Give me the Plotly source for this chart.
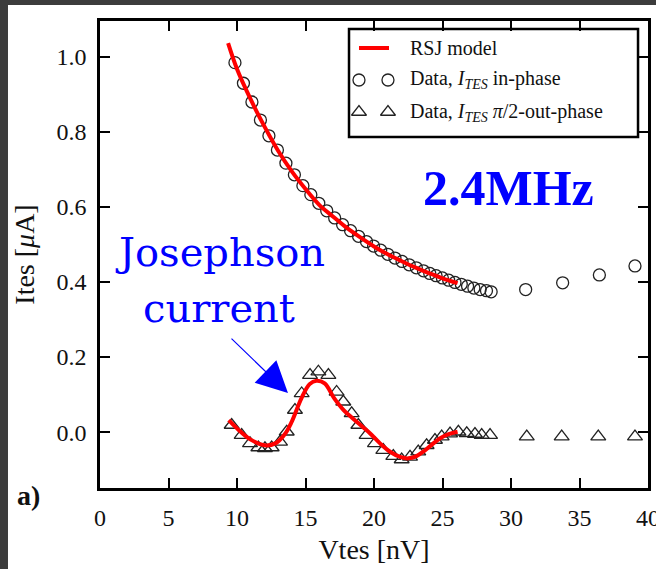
import plotly.graph_objects as go

# ---- measured data -------------------------------------------------------
# In-phase component of I_TES (open circles)
v_inphase = [9.85, 10.47, 11.09, 11.71, 12.33, 12.95, 13.57, 14.19, 14.81,
             15.39, 15.97, 16.55, 17.13, 17.71, 18.29, 18.87, 19.45, 19.97,
             20.49, 21.01, 21.53, 22.05, 22.57, 23.09, 23.61, 24.07, 24.53,
             24.99, 25.45, 25.91, 26.37, 26.83, 27.29, 27.75, 28.21, 28.55,
             31.07, 33.77, 36.45, 39.05]
i_inphase = [0.985, 0.930, 0.880, 0.832, 0.790, 0.752, 0.717, 0.686, 0.657,
             0.633, 0.610, 0.590, 0.571, 0.553, 0.537, 0.522, 0.508, 0.496,
             0.485, 0.474, 0.464, 0.455, 0.446, 0.438, 0.430, 0.423, 0.417,
             0.411, 0.405, 0.399, 0.394, 0.389, 0.384, 0.380, 0.377, 0.374,
             0.380, 0.398, 0.419, 0.443]

# pi/2 out-of-phase component of I_TES (open triangles)
v_outphase = [9.61, 10.34, 10.95, 11.56, 12.04, 12.53, 13.14, 13.63, 14.23,
              14.72, 15.33, 15.94, 16.67, 17.27, 17.76, 18.37, 18.86, 19.46,
              20.07, 20.68, 21.41, 22.02, 22.63, 23.23, 23.84, 24.45, 24.94,
              25.55, 26.16, 26.77, 27.37, 27.86, 28.47, 31.15, 33.70, 36.37,
              39.05]
i_outphase = [0.019, -0.008, -0.030, -0.041, -0.043, -0.041, -0.026, 0.001,
              0.059, 0.103, 0.152, 0.161, 0.152, 0.107, 0.081, 0.050, 0.019,
              -0.008, -0.030, -0.048, -0.064, -0.073, -0.066, -0.052, -0.035,
              -0.021, -0.012, -0.004, 0.001, -0.003, -0.005, -0.008, -0.008,
              -0.012, -0.012, -0.012, -0.012]

# RSJ model curves
v_rsj_in = [9.35, 10.0, 11.0, 12.0, 13.0, 14.0, 15.0, 16.0, 17.0, 18.0,
            19.0, 20.0, 21.0, 22.0, 23.0, 24.0, 25.0, 26.1]
i_rsj_in = [1.037, 0.968, 0.887, 0.815, 0.750, 0.695, 0.648, 0.606, 0.575,
            0.545, 0.519, 0.495, 0.474, 0.456, 0.439, 0.424, 0.410, 0.397]

v_rsj_out = [9.4, 10.0, 11.0, 12.0, 12.8, 13.5, 14.0, 14.7, 15.3, 15.8,
             16.4, 17.1, 17.8, 18.5, 19.2, 19.7, 20.44, 21.2, 21.9, 22.5,
             23.1, 23.6, 24.2, 24.8, 25.4, 26.1]
i_rsj_out = [0.032, 0.010, -0.020, -0.035, -0.030, -0.005, 0.028, 0.090,
             0.128, 0.137, 0.130, 0.090, 0.058, 0.035, 0.013, -0.003, -0.030,
             -0.053, -0.066, -0.070, -0.064, -0.052, -0.034, -0.017, -0.006,
             0.001]

x_ticks = [0, 5, 10, 15, 20, 25, 30, 35, 40]
y_ticks = [0.0, 0.2, 0.4, 0.6, 0.8, 1.0]

legend_labels = ["RSJ model",
                 "Data, <i>I</i><sub><i>TES</i></sub> in-phase",
                 "Data, <i>I</i><sub><i>TES</i></sub> <i>π</i>/2-out-phase"]

# ---- styling ---------------------------------------------------------------
SERIF = "Liberation Serif"
INK = "#111111"
RED = "#ff0000"
BLUE = "#0000ff"

fig = go.Figure()

fig.add_trace(go.Scatter(x=v_inphase, y=i_inphase, mode="markers",
                         marker=dict(symbol="circle-open", size=12,
                                     color="#222222", line=dict(width=1.3)),
                         showlegend=False))
fig.add_trace(go.Scatter(x=v_outphase, y=i_outphase, mode="markers",
                         marker=dict(symbol="triangle-up-open", size=13,
                                     color="#222222", line=dict(width=1.3)),
                         showlegend=False))
fig.add_trace(go.Scatter(x=v_rsj_in, y=i_rsj_in, mode="lines",
                         line=dict(color=RED, width=4, shape="spline"),
                         showlegend=False))
fig.add_trace(go.Scatter(x=v_rsj_out, y=i_rsj_out, mode="lines",
                         line=dict(color=RED, width=4, shape="spline"),
                         showlegend=False))

# legend glyphs, placed on an overlay axis pair spanning the plot area [0,1]
fig.add_trace(go.Scatter(x=[0.4726, 0.5255], y=[0.8737, 0.8737], mode="markers",
                         xaxis="x2", yaxis="y2", cliponaxis=False,
                         marker=dict(symbol="circle-open", size=12,
                                     color="#222222", line=dict(width=1.3)),
                         showlegend=False, hoverinfo="skip"))
fig.add_trace(go.Scatter(x=[0.4726, 0.5255], y=[0.8051, 0.8051], mode="markers",
                         xaxis="x2", yaxis="y2", cliponaxis=False,
                         marker=dict(symbol="triangle-up-open", size=13,
                                     color="#222222", line=dict(width=1.3)),
                         showlegend=False, hoverinfo="skip"))

axis_common = dict(showline=True, linecolor="black", linewidth=2.5,
                   mirror="ticks", ticks="inside", ticklen=10, tickwidth=1.5,
                   tickcolor="black", showgrid=False, zeroline=False,
                   automargin=False, ticklabeloverflow="allow",
                   tickfont=dict(family=SERIF, size=24, color=INK))

fig.update_layout(
    width=656, height=569,
    margin=dict(l=100, r=8, t=21, b=81),
    paper_bgcolor="#3c3c3c",
    plot_bgcolor="white",
    xaxis=dict(range=[0, 40], tickvals=x_ticks, ticklabelstandoff=6,
               title=dict(text="Vtes [nV]", standoff=10,
                          font=dict(family=SERIF, size=28, color=INK)),
               **axis_common),
    yaxis=dict(range=[-0.149, 1.096], tickvals=y_ticks, tickformat=".1f",
               ticklabelstandoff=6,
               title=dict(text="Ites [<i>μ</i>A]", standoff=14,
                          font=dict(family=SERIF, size=28, color=INK)),
               **axis_common),
    xaxis2=dict(overlaying="x", range=[0, 1], visible=False, fixedrange=True,
                automargin=False),
    yaxis2=dict(overlaying="y", range=[0, 1], visible=False, fixedrange=True,
                automargin=False),
)

# white page behind the chart, leaving a dark frame at the left and top
fig.add_shape(type="rect", xref="paper", yref="paper", layer="below",
              x0=-0.1679, x1=1.02, y0=-0.18, y1=1.0343,
              fillcolor="white", line=dict(width=0))

# legend box and RSJ line sample
fig.add_shape(type="rect", xref="paper", yref="paper",
              x0=0.4544, x1=0.9818, y0=0.7516, y1=0.9829,
              fillcolor="rgba(0,0,0,0)", line=dict(color="black", width=2.5))
fig.add_shape(type="line", xref="paper", yref="paper",
              x0=0.4726, x1=0.5274, y0=0.9422, y1=0.9422,
              line=dict(color=RED, width=4))
for label, ypos in zip(legend_labels, [0.9422, 0.8737, 0.8051]):
    fig.add_annotation(text=label, xref="paper", yref="paper", x=0.562, y=ypos,
                       xanchor="left", yanchor="middle", showarrow=False,
                       font=dict(family=SERIF, size=20, color=INK))

# frequency label and Josephson current callout
fig.add_annotation(text="<b>2.4MHz</b>", xref="paper", yref="paper",
                   x=0.746, y=0.642, xanchor="center", yanchor="middle",
                   showarrow=False,
                   font=dict(family=SERIF, size=50, color=BLUE))
fig.add_annotation(text="Josephson", xref="paper", yref="paper",
                   x=0.219, y=0.505, xanchor="center", yanchor="middle",
                   showarrow=False,
                   font=dict(family="DejaVu Serif", size=40, color=BLUE))
fig.add_annotation(text="current", xref="paper", yref="paper",
                   x=0.217, y=0.385, xanchor="center", yanchor="middle",
                   showarrow=False,
                   font=dict(family="DejaVu Serif", size=40, color=BLUE))
fig.add_annotation(text="", x=13.72, y=0.104, ax=9.49, ay=0.253,
                   xref="x", yref="y", axref="x", ayref="y",
                   showarrow=True, arrowhead=2, arrowsize=5.2, arrowwidth=1.2,
                   arrowcolor=BLUE, standoff=0)

# panel label
fig.add_annotation(text="<b>a)</b>", xref="paper", yref="paper",
                   x=-0.131, y=-0.015, xanchor="center", yanchor="middle",
                   showarrow=False,
                   font=dict(family=SERIF, size=28, color=INK))

fig.write_html("out.html")
